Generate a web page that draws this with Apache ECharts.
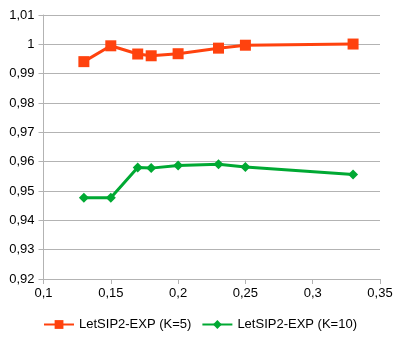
<!DOCTYPE html>
<html>
<head>
<meta charset="utf-8">
<script src="https://cdn.jsdelivr.net/npm/echarts@6/dist/echarts.min.js"></script>
<style>
  html, body { margin: 0; padding: 0; background: #fff; }
  #chart { width: 400px; height: 340px; }
</style>
</head>
<body>
<div id="chart"></div>
<script>
// data
var xValues = [0.13, 0.15, 0.17, 0.18, 0.2, 0.23, 0.25, 0.33];
var k5Values = [0.9941, 0.9995, 0.9967, 0.9961, 0.9968, 0.9987, 0.9997, 1.0001];
var k10Values = [0.9477, 0.9477, 0.9580, 0.9578, 0.9587, 0.9591, 0.9582, 0.9556];
var seriesNames = ['LetSIP2-EXP (K=5)', 'LetSIP2-EXP (K=10)'];

function pairs(xs, ys) {
  return xs.map(function (x, i) { return [x, ys[i]]; });
}
function comma(v) {
  return String(Math.round(v * 1000) / 1000).replace('.', ',');
}

var myChart = echarts.init(document.getElementById('chart'));
myChart.setOption({
  backgroundColor: '#fff',
  animation: false,
  color: ['#ff420e', '#00a933'],
  textStyle: { fontFamily: 'Liberation Sans' },
  grid: { left: 43.5, right: 20, top: 15, bottom: 61 },
  legend: {
    bottom: 4,
    itemWidth: 30,
    itemHeight: 11,
    itemGap: 10,
    textStyle: { fontSize: 13, color: '#000' },
    data: seriesNames
  },
  xAxis: {
    type: 'value',
    min: 0.1,
    max: 0.35,
    interval: 0.05,
    splitLine: { show: false },
    axisLine: { show: true, lineStyle: { color: '#b3b3b3' } },
    axisTick: { show: true, length: 5, lineStyle: { color: '#b3b3b3' } },
    axisLabel: { fontSize: 13, color: '#000', margin: 8, formatter: comma }
  },
  yAxis: {
    type: 'value',
    min: 0.92,
    max: 1.01,
    interval: 0.01,
    splitLine: { lineStyle: { color: '#b3b3b3' } },
    axisLine: { show: true, lineStyle: { color: '#b3b3b3' } },
    axisTick: { show: true, length: 5, lineStyle: { color: '#b3b3b3' } },
    axisLabel: { fontSize: 13, color: '#000', margin: 9, formatter: comma }
  },
  series: [{
    name: seriesNames[0],
    type: 'line',
    symbol: 'rect',
    symbolSize: 11,
    lineStyle: { width: 3 },
    data: pairs(xValues, k5Values)
  }, {
    name: seriesNames[1],
    type: 'line',
    symbol: 'diamond',
    symbolSize: 10,
    lineStyle: { width: 3 },
    data: pairs(xValues, k10Values)
  }]
});
</script>
</body>
</html>
